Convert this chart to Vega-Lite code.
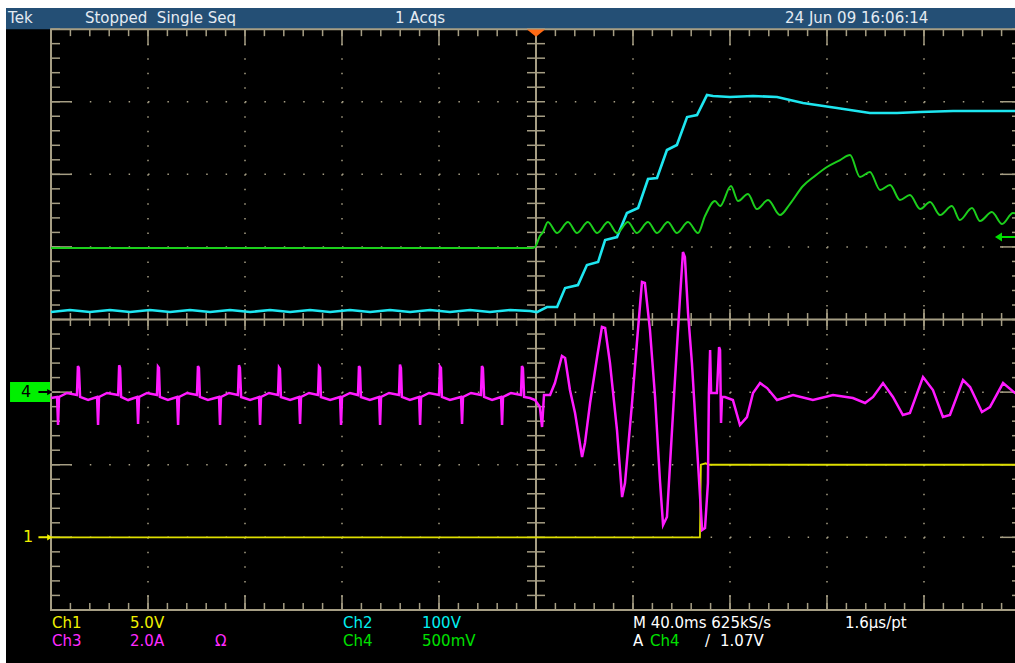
{
"$schema": "https://vega.github.io/schema/vega-lite/v6.json",
"width": 1009, "height": 655,
"autosize": {"type": "none"},
"padding": {"left": 6, "top": 8, "right": 0, "bottom": 0},
"background": "#ffffff",
"view": {"fill": "#000000", "stroke": null},
"config": {"axis": {"disable": true}, "legend": {"disable": true}},
"datasets": {
"one": [{}],
"xminor": [{"t":-200},{"t":-192},{"t":-184},{"t":-176},{"t":-168},{"t":-160},{"t":-152},{"t":-144},{"t":-136},{"t":-128},{"t":-120},{"t":-112},{"t":-104},{"t":-96},{"t":-88},{"t":-80},{"t":-72},{"t":-64},{"t":-56},{"t":-48},{"t":-40},{"t":-32},{"t":-24},{"t":-16},{"t":-8},{"t":0},{"t":8},{"t":16},{"t":24},{"t":32},{"t":40},{"t":48},{"t":56},{"t":64},{"t":72},{"t":80},{"t":88},{"t":96},{"t":104},{"t":112},{"t":120},{"t":128},{"t":136},{"t":144},{"t":152},{"t":160},{"t":168},{"t":176},{"t":184},{"t":192},{"t":200}],
"xmajor": [{"t":-160},{"t":-120},{"t":-80},{"t":-40},{"t":0},{"t":40},{"t":80},{"t":120},{"t":160}],
"yminor": [{"v":-4},{"v":-3.8},{"v":-3.6},{"v":-3.4},{"v":-3.2},{"v":-3},{"v":-2.8},{"v":-2.6},{"v":-2.4},{"v":-2.2},{"v":-2},{"v":-1.8},{"v":-1.6},{"v":-1.4},{"v":-1.2},{"v":-1},{"v":-0.8},{"v":-0.6},{"v":-0.4},{"v":-0.2},{"v":0},{"v":0.2},{"v":0.4},{"v":0.6},{"v":0.8},{"v":1},{"v":1.2},{"v":1.4},{"v":1.6},{"v":1.8},{"v":2},{"v":2.2},{"v":2.4},{"v":2.6},{"v":2.8},{"v":3},{"v":3.2},{"v":3.4},{"v":3.6},{"v":3.8},{"v":4}],
"ymajor": [{"v":-3},{"v":-2},{"v":-1},{"v":0},{"v":1},{"v":2},{"v":3}],
"ch1": [{"t":-200,"v":-3.0},{"t":67.6,"v":-3.0},{"t":68.0,"v":-2.0},{"t":70.0,"v":-1.98},{"t":71.0,"v":-2.0},{"t":200,"v":-2.0}],
"ch2": [{"t":-200.0,"v":0.103},{"t":-192.2,"v":0.131},{"t":-184.0,"v":0.103},{"t":-175.7,"v":0.131},{"t":-167.4,"v":0.103},{"t":-159.2,"v":0.131},{"t":-150.9,"v":0.103},{"t":-142.7,"v":0.131},{"t":-134.4,"v":0.103},{"t":-126.2,"v":0.131},{"t":-117.9,"v":0.103},{"t":-109.7,"v":0.131},{"t":-101.4,"v":0.103},{"t":-93.2,"v":0.131},{"t":-84.9,"v":0.103},{"t":-76.7,"v":0.131},{"t":-68.4,"v":0.103},{"t":-60.2,"v":0.131},{"t":-51.9,"v":0.103},{"t":-43.7,"v":0.131},{"t":-35.5,"v":0.103},{"t":-27.2,"v":0.131},{"t":-19.0,"v":0.103},{"t":-10.7,"v":0.131},{"t":-2.5,"v":0.117},{"t":0.4,"v":0.103},{"t":4.5,"v":0.172},{"t":8.7,"v":0.172},{"t":12.0,"v":0.434},{"t":17.3,"v":0.475},{"t":21.0,"v":0.751},{"t":25.6,"v":0.792},{"t":28.5,"v":1.095},{"t":33.4,"v":1.136},{"t":37.5,"v":1.467},{"t":42.1,"v":1.536},{"t":46.2,"v":1.935},{"t":49.9,"v":1.949},{"t":54.0,"v":2.335},{"t":58.1,"v":2.404},{"t":62.3,"v":2.789},{"t":66.4,"v":2.817},{"t":70.5,"v":3.092},{"t":73.0,"v":3.078},{"t":80.0,"v":3.065},{"t":89.5,"v":3.078},{"t":99.4,"v":3.065},{"t":110.1,"v":2.982},{"t":124.1,"v":2.913},{"t":137.7,"v":2.844},{"t":148.9,"v":2.844},{"t":158.4,"v":2.858},{"t":172.0,"v":2.872},{"t":185.2,"v":2.872},{"t":196.7,"v":2.872},{"t":200.0,"v":2.872}],
"ch4": [{"t":-200,"v":0.985},{"t":-1.6,"v":0.985},{"t":-0.4,"v":1.0},{"t":1.6,"v":1.150},{"t":2.9,"v":1.205},{"t":4.9,"v":1.343},{"t":8.7,"v":1.191},{"t":13.2,"v":1.343},{"t":16.9,"v":1.191},{"t":21.4,"v":1.343},{"t":25.2,"v":1.191},{"t":29.7,"v":1.343},{"t":33.4,"v":1.191},{"t":37.9,"v":1.343},{"t":41.6,"v":1.191},{"t":46.2,"v":1.343},{"t":49.9,"v":1.191},{"t":54.4,"v":1.343},{"t":58.1,"v":1.191},{"t":62.7,"v":1.343},{"t":66.8,"v":1.191},{"t":69.7,"v":1.426},{"t":73.8,"v":1.632},{"t":75.9,"v":1.563},{"t":80.4,"v":1.839},{"t":83.3,"v":1.632},{"t":87.4,"v":1.729},{"t":91.1,"v":1.522},{"t":95.7,"v":1.646},{"t":100.6,"v":1.439},{"t":104.7,"v":1.591},{"t":110.1,"v":1.839},{"t":115.0,"v":1.977},{"t":120.0,"v":2.101},{"t":125.4,"v":2.197},{"t":129.5,"v":2.266},{"t":133.6,"v":1.963},{"t":137.7,"v":2.032},{"t":141.9,"v":1.784},{"t":146.0,"v":1.853},{"t":150.1,"v":1.646},{"t":154.2,"v":1.715},{"t":158.4,"v":1.522},{"t":162.5,"v":1.619},{"t":166.6,"v":1.439},{"t":171.5,"v":1.563},{"t":174.8,"v":1.371},{"t":179.8,"v":1.536},{"t":183.1,"v":1.357},{"t":188.0,"v":1.481},{"t":192.2,"v":1.315},{"t":196.7,"v":1.467},{"t":199.6,"v":1.439}],
"ch3": [{"t":-200.0,"v":-1.081},{"t":-197.5,"v":-1.067},{"t":-197.1,"v":-1.453},{"t":-196.7,"v":-1.067},{"t":-193.4,"v":-1.012},{"t":-189.3,"v":-1.040},{"t":-188.9,"v":-0.640},{"t":-188.5,"v":-0.668},{"t":-188.0,"v":-1.067},{"t":-184.7,"v":-1.109},{"t":-181.0,"v":-1.067},{"t":-180.6,"v":-1.453},{"t":-180.2,"v":-1.067},{"t":-176.9,"v":-1.012},{"t":-172.3,"v":-1.040},{"t":-171.9,"v":-0.630},{"t":-171.5,"v":-0.668},{"t":-171.1,"v":-1.067},{"t":-168.2,"v":-1.109},{"t":-164.5,"v":-1.067},{"t":-164.1,"v":-1.440},{"t":-163.7,"v":-1.067},{"t":-160.4,"v":-1.012},{"t":-156.3,"v":-1.040},{"t":-155.9,"v":-0.650},{"t":-155.5,"v":-0.668},{"t":-155.1,"v":-1.067},{"t":-151.8,"v":-1.109},{"t":-148.0,"v":-1.067},{"t":-147.6,"v":-1.453},{"t":-147.2,"v":-1.067},{"t":-143.9,"v":-1.012},{"t":-139.8,"v":-1.040},{"t":-139.4,"v":-0.640},{"t":-139.0,"v":-0.668},{"t":-138.6,"v":-1.067},{"t":-135.3,"v":-1.109},{"t":-130.7,"v":-1.067},{"t":-130.3,"v":-1.453},{"t":-129.9,"v":-1.067},{"t":-126.6,"v":-1.012},{"t":-122.9,"v":-1.040},{"t":-122.5,"v":-0.630},{"t":-122.1,"v":-0.668},{"t":-121.6,"v":-1.067},{"t":-117.9,"v":-1.109},{"t":-114.2,"v":-1.067},{"t":-113.8,"v":-1.453},{"t":-113.4,"v":-1.067},{"t":-110.1,"v":-1.012},{"t":-106.4,"v":-1.040},{"t":-106.0,"v":-0.660},{"t":-105.6,"v":-0.680},{"t":-105.2,"v":-1.067},{"t":-101.4,"v":-1.109},{"t":-97.7,"v":-1.067},{"t":-97.3,"v":-1.440},{"t":-96.9,"v":-1.067},{"t":-93.6,"v":-1.012},{"t":-89.9,"v":-1.040},{"t":-89.5,"v":-0.650},{"t":-89.1,"v":-0.668},{"t":-88.7,"v":-1.067},{"t":-84.9,"v":-1.109},{"t":-80.8,"v":-1.067},{"t":-80.4,"v":-1.453},{"t":-80.0,"v":-1.067},{"t":-76.7,"v":-1.012},{"t":-73.4,"v":-1.040},{"t":-73.0,"v":-0.640},{"t":-72.6,"v":-0.668},{"t":-72.2,"v":-1.067},{"t":-68.5,"v":-1.109},{"t":-64.7,"v":-1.067},{"t":-64.3,"v":-1.453},{"t":-63.9,"v":-1.067},{"t":-60.6,"v":-1.012},{"t":-56.5,"v":-1.040},{"t":-56.1,"v":-0.620},{"t":-55.7,"v":-0.668},{"t":-55.3,"v":-1.067},{"t":-52.0,"v":-1.109},{"t":-48.2,"v":-1.067},{"t":-47.8,"v":-1.453},{"t":-47.4,"v":-1.067},{"t":-44.1,"v":-1.012},{"t":-40.0,"v":-1.040},{"t":-39.6,"v":-0.650},{"t":-39.2,"v":-0.668},{"t":-38.8,"v":-1.067},{"t":-35.5,"v":-1.109},{"t":-30.9,"v":-1.067},{"t":-30.5,"v":-1.440},{"t":-30.1,"v":-1.067},{"t":-26.8,"v":-1.012},{"t":-22.7,"v":-1.040},{"t":-22.3,"v":-0.640},{"t":-21.9,"v":-0.668},{"t":-21.4,"v":-1.067},{"t":-18.1,"v":-1.109},{"t":-14.4,"v":-1.067},{"t":-14.0,"v":-1.453},{"t":-13.6,"v":-1.067},{"t":-10.3,"v":-1.012},{"t":-6.2,"v":-1.040},{"t":-5.8,"v":-0.640},{"t":-5.4,"v":-0.668},{"t":-4.9,"v":-1.067},{"t":-2.5,"v":-1.081},{"t":-0.4,"v":-1.109},{"t":1.6,"v":-1.205},{"t":2.5,"v":-1.481},{"t":3.3,"v":-1.040},{"t":5.8,"v":-1.040},{"t":7.8,"v":-0.875},{"t":10.7,"v":-0.503},{"t":12.0,"v":-0.530},{"t":14.0,"v":-0.971},{"t":16.1,"v":-1.288},{"t":19.0,"v":-1.894},{"t":20.2,"v":-1.701},{"t":22.3,"v":-1.150},{"t":25.2,"v":-0.517},{"t":27.2,"v":-0.103},{"t":28.5,"v":-0.117},{"t":30.5,"v":-0.599},{"t":33.4,"v":-1.522},{"t":35.5,"v":-2.445},{"t":36.7,"v":-2.252},{"t":39.6,"v":-1.150},{"t":41.6,"v":-0.324},{"t":43.7,"v":0.517},{"t":44.9,"v":0.503},{"t":47.0,"v":-0.145},{"t":49.1,"v":-1.067},{"t":51.1,"v":-2.211},{"t":52.4,"v":-2.831},{"t":54.0,"v":-2.720},{"t":55.3,"v":-1.977},{"t":57.3,"v":-0.833},{"t":59.4,"v":0.310},{"t":60.6,"v":0.930},{"t":61.4,"v":0.861},{"t":62.7,"v":0.090},{"t":64.3,"v":-0.599},{"t":66.4,"v":-1.756},{"t":68.5,"v":-2.899},{"t":69.7,"v":-2.872},{"t":70.9,"v":-2.252},{"t":71.3,"v":-1.012},{"t":71.8,"v":-0.420},{"t":72.2,"v":-1.012},{"t":74.6,"v":-1.012},{"t":75.5,"v":-0.379},{"t":75.9,"v":-0.420},{"t":76.3,"v":-1.426},{"t":76.7,"v":-1.067},{"t":77.9,"v":-1.067},{"t":81.2,"v":-1.109},{"t":84.1,"v":-1.453},{"t":87.0,"v":-1.343},{"t":89.5,"v":-1.012},{"t":92.4,"v":-0.875},{"t":95.3,"v":-0.944},{"t":99.4,"v":-1.109},{"t":106.0,"v":-1.040},{"t":114.2,"v":-1.109},{"t":122.5,"v":-1.040},{"t":130.7,"v":-1.081},{"t":135.7,"v":-1.150},{"t":139.0,"v":-1.067},{"t":143.1,"v":-0.875},{"t":147.2,"v":-1.067},{"t":151.3,"v":-1.315},{"t":154.2,"v":-1.288},{"t":159.6,"v":-0.792},{"t":163.7,"v":-0.971},{"t":167.8,"v":-1.343},{"t":170.7,"v":-1.315},{"t":176.1,"v":-0.833},{"t":179.0,"v":-0.930},{"t":183.9,"v":-1.274},{"t":187.2,"v":-1.205},{"t":192.6,"v":-0.875},{"t":197.5,"v":-1.012},{"t":200.0,"v":-1.040}],
"topText": [{"s":"Tek","t":-217.7,"v":4.153},{"s":"Stopped\u00a0 Single Seq","t":-186.0,"v":4.153},{"s":"1 Acqs","t":-58.1,"v":4.153},{"s":"24 Jun 09 16:06:14","t":102.7,"v":4.153}],
"bottomText": [{"s":"Ch1","ch":"1","t":-199.6,"v":-4.18},{"s":"5.0V","ch":"1","t":-167.4,"v":-4.18},{"s":"Ch2","ch":"2","t":-79.6,"v":-4.18},{"s":"100V","ch":"2","t":-47.0,"v":-4.18},{"s":"M 40.0ms 625kS/s","ch":"w","t":40.0,"v":-4.18},{"s":"1.6µs/pt","ch":"w","t":127.4,"v":-4.18},{"s":"Ch3","ch":"3","t":-199.6,"v":-4.428},{"s":"2.0A","ch":"3","t":-167.4,"v":-4.428},{"s":"Ω","ch":"3","t":-132.4,"v":-4.428},{"s":"Ch4","ch":"4","t":-79.6,"v":-4.428},{"s":"500mV","ch":"4","t":-47.0,"v":-4.428},{"s":"A","ch":"w","t":40.0,"v":-4.428},{"s":"Ch4","ch":"4","t":47.0,"v":-4.428},{"s":"/","ch":"w","t":69.7,"v":-4.428},{"s":"1.07V","ch":"w","t":75.9,"v":-4.428}],
"markers": [{"s":"4","ch":"k","t":-210.3,"v":-0.999},{"s":"1","ch":"1","t":-209.5,"v":-3.0}],
"arrows": [{"ch":"k","t":-202.3,"v":-0.999},{"ch":"1","t":-202.3,"v":-3.0}],
"backArrow": [{"ch":"4","t":193.4,"v":1.136}]
},
"layer": [
{"data":{"name":"one"},"mark":{"type":"rect","color":"#244f75","clip":true},
 "encoding":{"x":{"datum":-218.56,"type":"quantitative","scale":{"domain":[-218.56,197.53],"nice":false,"zero":false},"axis":null},"x2":{"datum":197.53},
 "y":{"datum":4.0,"type":"quantitative","scale":{"domain":[-4.731,4.291],"nice":false,"zero":false},"axis":null},"y2":{"datum":4.291}}},
{"data":{"name":"xmajor"},"transform":[{"filter":"datum.t != 0"}],"mark":{"type":"rule","color":"#a69e84","strokeWidth":1.5,"strokeDash":[1.5,13.02],"clip":true},
 "encoding":{"x":{"field":"t","type":"quantitative","scale":{"domain":[-218.56,197.53],"nice":false,"zero":false},"axis":null},
 "y":{"datum":4,"type":"quantitative","scale":{"domain":[-4.731,4.291],"nice":false,"zero":false},"axis":null},"y2":{"datum":-4}}},
{"data":{"name":"ymajor"},"transform":[{"filter":"datum.v != 0"}],"mark":{"type":"rule","color":"#a69e84","strokeWidth":1.5,"strokeDash":[1.5,17.9],"clip":true},
 "encoding":{"y":{"field":"v","type":"quantitative","scale":{"domain":[-4.731,4.291],"nice":false,"zero":false},"axis":null},
 "x":{"datum":-200,"type":"quantitative","scale":{"domain":[-218.56,197.53],"nice":false,"zero":false},"axis":null},"x2":{"datum":200}}},
{"data":{"name":"one"},"mark":{"type":"rule","color":"#a69e84","strokeWidth":2,"clip":true},
 "encoding":{"x":{"datum":0,"type":"quantitative","scale":{"domain":[-218.56,197.53],"nice":false,"zero":false},"axis":null},
 "y":{"datum":4,"type":"quantitative","scale":{"domain":[-4.731,4.291],"nice":false,"zero":false},"axis":null},"y2":{"datum":-4}}},
{"data":{"name":"one"},"mark":{"type":"rule","color":"#a69e84","strokeWidth":2,"clip":true},
 "encoding":{"y":{"datum":0,"type":"quantitative","scale":{"domain":[-4.731,4.291],"nice":false,"zero":false},"axis":null},
 "x":{"datum":-200,"type":"quantitative","scale":{"domain":[-218.56,197.53],"nice":false,"zero":false},"axis":null},"x2":{"datum":200}}},
{"data":{"name":"one"},"mark":{"type":"rect","filled":false,"color":"#a69e84","strokeWidth":2,"clip":true},
 "encoding":{"x":{"datum":-200,"type":"quantitative","scale":{"domain":[-218.56,197.53],"nice":false,"zero":false},"axis":null},"x2":{"datum":200},
 "y":{"datum":4,"type":"quantitative","scale":{"domain":[-4.731,4.291],"nice":false,"zero":false},"axis":null},"y2":{"datum":-4}}},
{"data":{"name":"xminor"},"mark":{"type":"tick","orient":"vertical","size":7,"thickness":1.5,"yOffset":3.5,"color":"#a69e84","opacity":1,"clip":true},
 "encoding":{"x":{"field":"t","type":"quantitative","scale":{"domain":[-218.56,197.53],"nice":false,"zero":false},"axis":null},
 "y":{"datum":4,"type":"quantitative","scale":{"domain":[-4.731,4.291],"nice":false,"zero":false},"axis":null}}},
{"data":{"name":"xmajor"},"mark":{"type":"tick","orient":"vertical","size":16,"thickness":1.5,"yOffset":8,"color":"#a69e84","opacity":1,"clip":true},
 "encoding":{"x":{"field":"t","type":"quantitative","scale":{"domain":[-218.56,197.53],"nice":false,"zero":false},"axis":null},
 "y":{"datum":4,"type":"quantitative","scale":{"domain":[-4.731,4.291],"nice":false,"zero":false},"axis":null}}},
{"data":{"name":"xminor"},"mark":{"type":"tick","orient":"vertical","size":7,"thickness":1.5,"yOffset":-3.5,"color":"#a69e84","opacity":1,"clip":true},
 "encoding":{"x":{"field":"t","type":"quantitative","scale":{"domain":[-218.56,197.53],"nice":false,"zero":false},"axis":null},
 "y":{"datum":-4,"type":"quantitative","scale":{"domain":[-4.731,4.291],"nice":false,"zero":false},"axis":null}}},
{"data":{"name":"xmajor"},"mark":{"type":"tick","orient":"vertical","size":15,"thickness":1.5,"yOffset":-7.5,"color":"#a69e84","opacity":1,"clip":true},
 "encoding":{"x":{"field":"t","type":"quantitative","scale":{"domain":[-218.56,197.53],"nice":false,"zero":false},"axis":null},
 "y":{"datum":-4,"type":"quantitative","scale":{"domain":[-4.731,4.291],"nice":false,"zero":false},"axis":null}}},
{"data":{"name":"yminor"},"mark":{"type":"tick","orient":"horizontal","size":9,"thickness":1.5,"xOffset":4.5,"color":"#a69e84","opacity":1,"clip":true},
 "encoding":{"y":{"field":"v","type":"quantitative","scale":{"domain":[-4.731,4.291],"nice":false,"zero":false},"axis":null},
 "x":{"datum":-200,"type":"quantitative","scale":{"domain":[-218.56,197.53],"nice":false,"zero":false},"axis":null}}},
{"data":{"name":"ymajor"},"mark":{"type":"tick","orient":"horizontal","size":21,"thickness":1.5,"xOffset":10.5,"color":"#a69e84","opacity":1,"clip":true},
 "encoding":{"y":{"field":"v","type":"quantitative","scale":{"domain":[-4.731,4.291],"nice":false,"zero":false},"axis":null},
 "x":{"datum":-200,"type":"quantitative","scale":{"domain":[-218.56,197.53],"nice":false,"zero":false},"axis":null}}},
{"data":{"name":"yminor"},"mark":{"type":"tick","orient":"horizontal","size":9,"thickness":1.5,"xOffset":-4.5,"color":"#a69e84","opacity":1,"clip":true},
 "encoding":{"y":{"field":"v","type":"quantitative","scale":{"domain":[-4.731,4.291],"nice":false,"zero":false},"axis":null},
 "x":{"datum":200,"type":"quantitative","scale":{"domain":[-218.56,197.53],"nice":false,"zero":false},"axis":null}}},
{"data":{"name":"ymajor"},"mark":{"type":"tick","orient":"horizontal","size":21,"thickness":1.5,"xOffset":-10.5,"color":"#a69e84","opacity":1,"clip":true},
 "encoding":{"y":{"field":"v","type":"quantitative","scale":{"domain":[-4.731,4.291],"nice":false,"zero":false},"axis":null},
 "x":{"datum":200,"type":"quantitative","scale":{"domain":[-218.56,197.53],"nice":false,"zero":false},"axis":null}}},
{"data":{"name":"xminor"},"mark":{"type":"tick","orient":"vertical","size":13,"thickness":1.5,"color":"#a69e84","opacity":1,"clip":true},
 "encoding":{"x":{"field":"t","type":"quantitative","scale":{"domain":[-218.56,197.53],"nice":false,"zero":false},"axis":null},
 "y":{"datum":0,"type":"quantitative","scale":{"domain":[-4.731,4.291],"nice":false,"zero":false},"axis":null}}},
{"data":{"name":"xmajor"},"mark":{"type":"tick","orient":"vertical","size":21,"thickness":1.5,"color":"#a69e84","opacity":1,"clip":true},
 "encoding":{"x":{"field":"t","type":"quantitative","scale":{"domain":[-218.56,197.53],"nice":false,"zero":false},"axis":null},
 "y":{"datum":0,"type":"quantitative","scale":{"domain":[-4.731,4.291],"nice":false,"zero":false},"axis":null}}},
{"data":{"name":"yminor"},"mark":{"type":"tick","orient":"horizontal","size":18,"thickness":1.5,"color":"#a69e84","opacity":1,"clip":true},
 "encoding":{"y":{"field":"v","type":"quantitative","scale":{"domain":[-4.731,4.291],"nice":false,"zero":false},"axis":null},
 "x":{"datum":0,"type":"quantitative","scale":{"domain":[-218.56,197.53],"nice":false,"zero":false},"axis":null}}},
{"data":{"name":"ch1"},"mark":{"type":"line","color":"#dede00","strokeWidth":1.8,"clip":true},
 "encoding":{"x":{"field":"t","type":"quantitative","scale":{"domain":[-218.56,197.53],"nice":false,"zero":false},"axis":null},
 "y":{"field":"v","type":"quantitative","scale":{"domain":[-4.731,4.291],"nice":false,"zero":false},"axis":null}}},
{"data":{"name":"ch2"},"mark":{"type":"line","color":"#1ee6f0","strokeWidth":2.6,"clip":true},
 "encoding":{"x":{"field":"t","type":"quantitative","scale":{"domain":[-218.56,197.53],"nice":false,"zero":false},"axis":null},
 "y":{"field":"v","type":"quantitative","scale":{"domain":[-4.731,4.291],"nice":false,"zero":false},"axis":null}}},
{"data":{"name":"ch4"},"mark":{"type":"line","color":"#1ccf1c","strokeWidth":2,"interpolate":"monotone","clip":true},
 "encoding":{"x":{"field":"t","type":"quantitative","scale":{"domain":[-218.56,197.53],"nice":false,"zero":false},"axis":null},
 "y":{"field":"v","type":"quantitative","scale":{"domain":[-4.731,4.291],"nice":false,"zero":false},"axis":null}}},
{"data":{"name":"ch3"},"mark":{"type":"line","color":"#ff1aff","strokeWidth":2.5,"clip":true},
 "encoding":{"x":{"field":"t","type":"quantitative","scale":{"domain":[-218.56,197.53],"nice":false,"zero":false},"axis":null},
 "y":{"field":"v","type":"quantitative","scale":{"domain":[-4.731,4.291],"nice":false,"zero":false},"axis":null}}},
{"data":{"name":"one"},"mark":{"type":"point","shape":"M-1,-0.4L1,-0.4L0,0.4Z","size":324,"filled":true,"color":"#ff6a14","opacity":1,"clip":true},
 "encoding":{"x":{"datum":0,"type":"quantitative","scale":{"domain":[-218.56,197.53],"nice":false,"zero":false},"axis":null},
 "y":{"datum":3.946,"type":"quantitative","scale":{"domain":[-4.731,4.291],"nice":false,"zero":false},"axis":null}}},
{"data":{"name":"one"},"mark":{"type":"rect","color":"#00f000","clip":true},
 "encoding":{"x":{"datum":-216.9,"type":"quantitative","scale":{"domain":[-218.56,197.53],"nice":false,"zero":false},"axis":null},"x2":{"datum":-200.4},
 "y":{"datum":-0.861,"type":"quantitative","scale":{"domain":[-4.731,4.291],"nice":false,"zero":false},"axis":null},"y2":{"datum":-1.136}}},
{"data":{"name":"markers"},"mark":{"type":"text","font":"DejaVu Sans","fontSize":16,"align":"center","baseline":"middle","clip":true},
 "encoding":{"x":{"field":"t","type":"quantitative","scale":{"domain":[-218.56,197.53],"nice":false,"zero":false},"axis":null},
 "y":{"field":"v","type":"quantitative","scale":{"domain":[-4.731,4.291],"nice":false,"zero":false},"axis":null},
 "text":{"field":"s"},
 "color":{"field":"ch","type":"nominal","scale":{"domain":["1","2","3","4","w","k"],"range":["#f0f000","#00f0f0","#ff2bff","#00e000","#ffffff","#000000"]},"legend":null}}},
{"data":{"name":"arrows"},"mark":{"type":"point","shape":"M-1,-0.14L0.25,-0.14L0.25,-0.45L1,0L0.25,0.45L0.25,0.14L-1,0.14Z","size":196,"filled":true,"opacity":1,"clip":true},
 "encoding":{"x":{"field":"t","type":"quantitative","scale":{"domain":[-218.56,197.53],"nice":false,"zero":false},"axis":null},
 "y":{"field":"v","type":"quantitative","scale":{"domain":[-4.731,4.291],"nice":false,"zero":false},"axis":null},
 "color":{"field":"ch","type":"nominal","scale":{"domain":["1","2","3","4","w","k"],"range":["#f0f000","#00f0f0","#ff2bff","#00e000","#ffffff","#000000"]},"legend":null}}},
{"data":{"name":"backArrow"},"mark":{"type":"point","shape":"M1,-0.1L-0.3,-0.1L-0.3,-0.45L-1,0L-0.3,0.45L-0.3,0.1L1,0.1Z","size":400,"filled":true,"opacity":1,"clip":true},
 "encoding":{"x":{"field":"t","type":"quantitative","scale":{"domain":[-218.56,197.53],"nice":false,"zero":false},"axis":null},
 "y":{"field":"v","type":"quantitative","scale":{"domain":[-4.731,4.291],"nice":false,"zero":false},"axis":null},
 "color":{"field":"ch","type":"nominal","scale":{"domain":["1","2","3","4","w","k"],"range":["#f0f000","#00f0f0","#ff2bff","#00e000","#ffffff","#000000"]},"legend":null}}},
{"data":{"name":"topText"},"mark":{"type":"text","font":"DejaVu Sans","fontSize":15,"align":"left","baseline":"middle","color":"#e4ebf2","clip":true},
 "encoding":{"x":{"field":"t","type":"quantitative","scale":{"domain":[-218.56,197.53],"nice":false,"zero":false},"axis":null},
 "y":{"field":"v","type":"quantitative","scale":{"domain":[-4.731,4.291],"nice":false,"zero":false},"axis":null},
 "text":{"field":"s"}}},
{"data":{"name":"bottomText"},"mark":{"type":"text","font":"DejaVu Sans","fontSize":15,"align":"left","baseline":"middle","clip":true},
 "encoding":{"x":{"field":"t","type":"quantitative","scale":{"domain":[-218.56,197.53],"nice":false,"zero":false},"axis":null},
 "y":{"field":"v","type":"quantitative","scale":{"domain":[-4.731,4.291],"nice":false,"zero":false},"axis":null},
 "text":{"field":"s"},
 "color":{"field":"ch","type":"nominal","scale":{"domain":["1","2","3","4","w","k"],"range":["#f0f000","#00f0f0","#ff2bff","#00e000","#ffffff","#000000"]},"legend":null}}}
]
}
